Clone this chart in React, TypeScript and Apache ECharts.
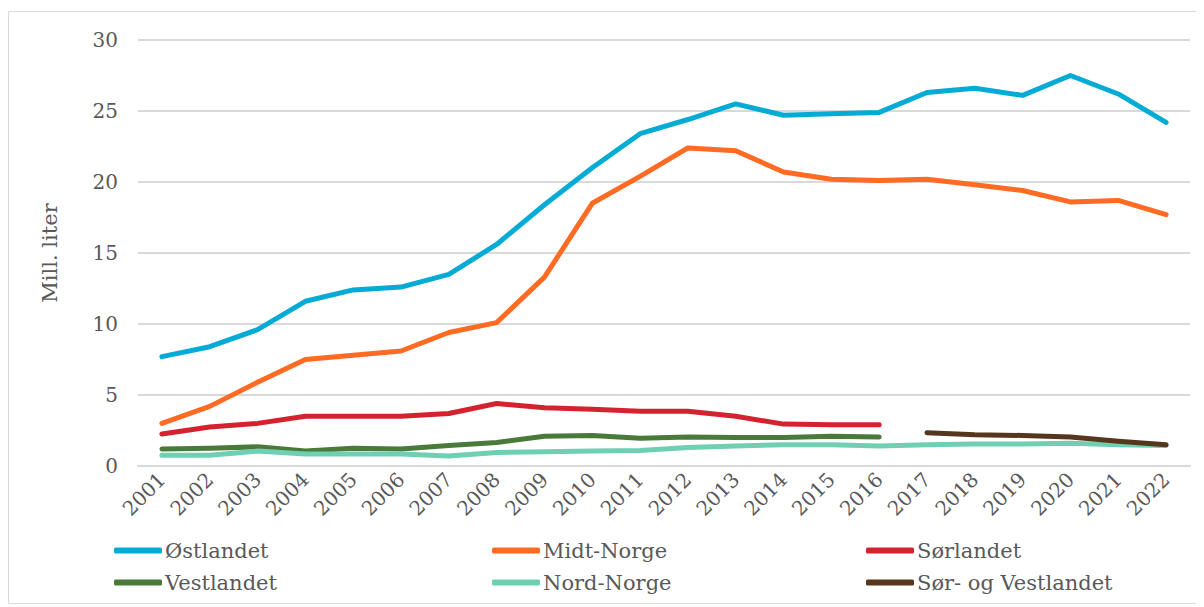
import React, { useEffect, useRef } from "react";
import * as echarts from "echarts";

const years = ["2001","2002","2003","2004","2005","2006","2007","2008","2009","2010","2011","2012","2013","2014","2015","2016","2017","2018","2019","2020","2021","2022"];
const ostlandet = [7.7, 8.4, 9.6, 11.6, 12.4, 12.6, 13.5, 15.6, 18.4, 21.0, 23.4, 24.4, 25.5, 24.7, 24.8, 24.9, 26.3, 26.6, 26.1, 27.5, 26.2, 24.2];
const midtNorge = [3.0, 4.2, 5.9, 7.5, 7.8, 8.1, 9.4, 10.1, 13.3, 18.5, 20.4, 22.4, 22.2, 20.7, 20.2, 20.1, 20.2, 19.8, 19.4, 18.6, 18.7, 17.7];
const sorlandet = [2.25, 2.75, 3.0, 3.5, 3.5, 3.5, 3.7, 4.4, 4.1, 4.0, 3.85, 3.85, 3.5, 2.95, 2.9, 2.9, null, null, null, null, null, null];
const vestlandet = [1.2, 1.25, 1.35, 1.05, 1.25, 1.2, 1.45, 1.65, 2.1, 2.15, 1.95, 2.05, 2.0, 2.0, 2.1, 2.05, null, null, null, null, null, null];
const nordNorge = [0.75, 0.75, 1.05, 0.85, 0.85, 0.85, 0.7, 0.95, 1.0, 1.05, 1.1, 1.3, 1.4, 1.5, 1.5, 1.4, 1.5, 1.55, 1.55, 1.6, 1.5, 1.45];
const sorOgVestlandet = [null, null, null, null, null, null, null, null, null, null, null, null, null, null, null, null, 2.35, 2.2, 2.15, 2.05, 1.75, 1.5];

const seriesNames = ["Østlandet", "Midt-Norge", "Sørlandet", "Vestlandet", "Nord-Norge", "Sør- og Vestlandet"];
const seriesData = [ostlandet, midtNorge, sorlandet, vestlandet, nordNorge, sorOgVestlandet];
const colors = ["#04acd5", "#ff6b22", "#d5222f", "#4a7a3a", "#6fcfb3", "#56361d"];

const FONT = "DejaVu Serif";
const TXT = "#595959";

const legendColumns = [
  [seriesNames[0], seriesNames[3]],
  [seriesNames[1], seriesNames[4]],
  [seriesNames[2], seriesNames[5]],
];
const legendLefts = [101, 479, 853];

export default function App() {
  const ref = useRef<HTMLDivElement>(null);
  useEffect(() => {
    const chart = echarts.init(ref.current!, null, { renderer: "svg" });
    chart.setOption({
      animation: false,
      color: colors,
      textStyle: { fontFamily: FONT, color: TXT },
      graphic: [
        {
          type: "rect",
          shape: { x: 0.5, y: 3.5, width: 1189, height: 592 },
          style: { fill: "none", stroke: "#d9d9d9", lineWidth: 1 },
          silent: true,
        },
      ],
      grid: { left: 130, right: 14, top: 32, bottom: 141 },
      legend: legendColumns.map((col, i) => ({
        orient: "vertical",
        left: legendLefts[i],
        top: 527,
        itemWidth: 48,
        itemHeight: 6,
        itemGap: 11,
        icon: "roundRect",
        textStyle: { fontFamily: FONT, fontSize: 21, color: TXT, padding: [0, 0, 0, -2] },
        data: col,
      })),
      xAxis: {
        type: "category",
        data: years,
        boundaryGap: true,
        axisLine: { show: true, lineStyle: { color: "#d9d9d9", width: 2 } },
        axisTick: { show: false },
        axisLabel: { rotate: 45, fontFamily: FONT, fontSize: 20, color: TXT, margin: 10, interval: 0 },
      },
      yAxis: {
        type: "value",
        min: 0,
        max: 30,
        interval: 5,
        name: "Mill. liter",
        nameLocation: "middle",
        nameRotate: 90,
        nameGap: 78,
        nameTextStyle: { fontFamily: FONT, fontSize: 21, color: TXT },
        axisLine: { show: false },
        axisTick: { show: false },
        axisLabel: { fontFamily: FONT, fontSize: 20, color: TXT, margin: 20 },
        splitLine: { lineStyle: { color: "#d9d9d9", width: 2 } },
      },
      series: seriesNames.map((name, i) => ({
        name,
        type: "line",
        data: seriesData[i],
        showSymbol: false,
        symbol: "none",
        connectNulls: false,
        lineStyle: { width: 5, color: colors[i], cap: "round", join: "round" },
        itemStyle: { color: colors[i] },
      })),
    });
    return () => chart.dispose();
  }, []);
  return <div ref={ref} style={{ width: 1196, height: 599 }} />;
}
